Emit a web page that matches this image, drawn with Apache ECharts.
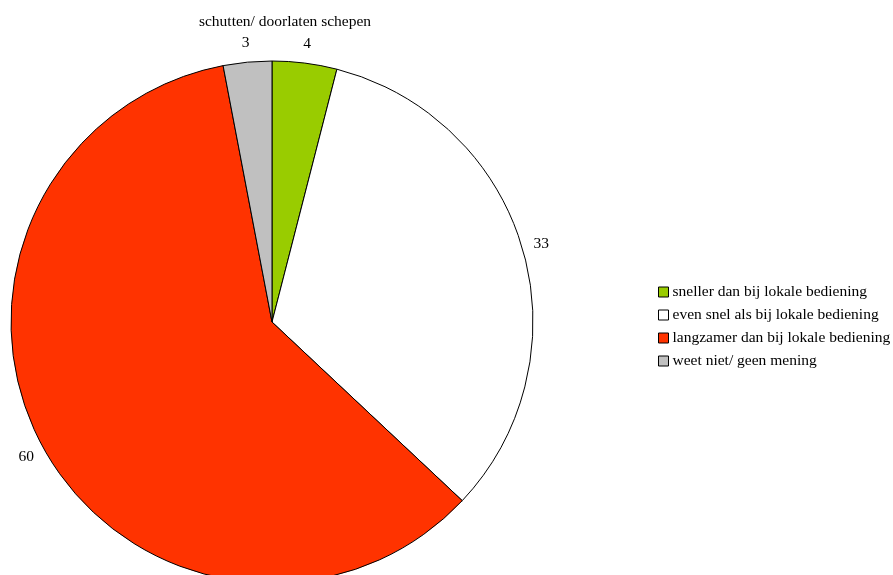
<!DOCTYPE html>
<html><head><meta charset="utf-8">
<script src="https://cdn.jsdelivr.net/npm/echarts@6/dist/echarts.min.js"></script>
<style>html,body{margin:0;padding:0;background:#fff}#c{width:893px;height:575px}</style>
</head><body><div id="c"></div>
<script>
const title = 'schutten/ doorlaten schepen';
const categories = ['sneller dan bij lokale bediening','even snel als bij lokale bediening','langzamer dan bij lokale bediening','weet niet/ geen mening'];
const values = [4, 33, 60, 3];
const colors = ['#99cc00', '#ffffff', '#ff3300', '#c0c0c0'];

const chart = echarts.init(document.getElementById('c'), null, {renderer: 'canvas'});
const font = 'Liberation Serif';
const fs = 15.5;
chart.setOption({
  animation: false,
  title: {text: title, left: 280, top: 9, textAlign: 'center',
    textStyle: {fontFamily: font, fontSize: fs, fontWeight: 'normal', color: '#000'}},
  legend: {orient: 'vertical', left: 653, top: 279, itemWidth: 10, itemHeight: 10, itemGap: 7,
    icon: 'rect', selectedMode: false,
    itemStyle: {borderColor: '#000', borderWidth: 1},
    textStyle: {fontFamily: font, fontSize: fs, lineHeight: 16, color: '#000', padding: [0,0,0,-1]},
    data: categories},
  series: [{
    type: 'pie', center: [272, 322], radius: 261, startAngle: 90, clockwise: true,
    itemStyle: {borderColor: '#000', borderWidth: 1},
    label: {show: false},
    labelLine: {show: false},
    emphasis: {disabled: true},
    data: categories.map((n, i) => ({name: n, value: values[i], itemStyle: {color: colors[i]}}))
  }, {
    type: 'pie', center: [272, 322], radius: [261, 294], startAngle: 90, clockwise: true,
    silent: true,
    itemStyle: {color: 'rgba(0,0,0,0)', borderWidth: 0},
    label: {show: true, position: 'inside', formatter: '{c}', fontFamily: font, fontSize: fs, color: '#000'},
    labelLine: {show: false},
    emphasis: {disabled: true},
    data: categories.map((n, i) => ({name: n, value: values[i]}))
  }]
});
</script></body></html>
